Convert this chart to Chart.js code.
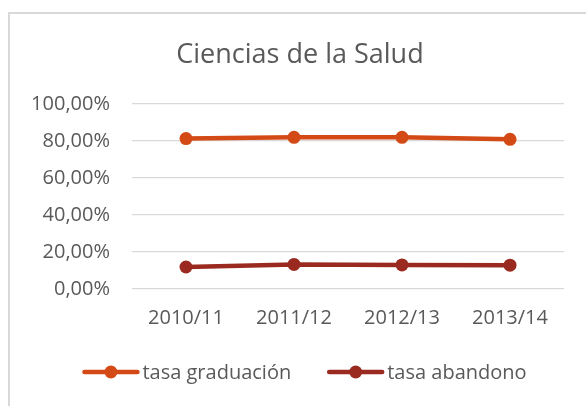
<!DOCTYPE html>
<html>
<head>
<meta charset="utf-8">
<script src="https://cdn.jsdelivr.net/npm/chart.js@4/dist/chart.umd.min.js"></script>
<style>
  html, body { margin: 0; padding: 0; background: #ffffff; overflow: hidden; }
  #wrap { position: relative; width: 586px; height: 406px; }
  #frame { position: absolute; left: 8px; top: 12px; width: 600px; height: 420px;
           border-left: 2px solid #d9d9d9; border-top: 2px solid #d9d9d9; box-sizing: border-box; }
  canvas { position: absolute; left: 0; top: 0; }
</style>
</head>
<body>
<div id="wrap">
  <div id="frame"></div>
  <canvas id="c" width="586" height="406"></canvas>
</div>
<script>
const categories = ['2010/11', '2011/12', '2012/13', '2013/14'];
const tasaGraduacion = [0.813, 0.820, 0.820, 0.809];
const tasaAbandono = [0.119, 0.133, 0.130, 0.129];
const seriesNames = ['tasa graduación', 'tasa abandono'];
const titleText = 'Ciencias de la Salud';

const ORANGE = '#D44A17';
const DARKRED = '#9A2A1F';
const TEXT = '#595959';
const FONT = "'Open Sans', sans-serif";

function fmtPct(v) {
  return (v * 100).toFixed(2).replace('.', ',') + '%';
}

const titleLegendPlugin = {
  id: 'titleLegend',
  afterDraw(chart) {
    const ctx = chart.ctx;
    ctx.save();
    // title
    ctx.fillStyle = TEXT;
    ctx.font = "27px " + FONT;
    ctx.textAlign = 'center';
    ctx.textBaseline = 'alphabetic';
    ctx.fillText(titleText, 300, 63);
    // legend
    ctx.font = "20px " + FONT;
    ctx.textAlign = 'left';
    const iconW = 57, gap = 3, itemGap = 36;
    const items = chart.data.datasets.map(ds => ({ text: ds.label, color: ds.borderColor,
      w: iconW + gap + ctx.measureText(ds.label).width }));
    const total = items.reduce((a, it) => a + it.w, 0) + itemGap * (items.length - 1);
    let x = 304.5 - total / 2;
    const cy = 372;
    items.forEach(it => {
      ctx.strokeStyle = it.color; ctx.lineWidth = 4.5; ctx.lineCap = 'round';
      ctx.beginPath(); ctx.moveTo(x + 2, cy); ctx.lineTo(x + iconW - 2, cy); ctx.stroke();
      ctx.fillStyle = it.color;
      ctx.beginPath(); ctx.arc(x + iconW / 2, cy, 6.5, 0, Math.PI * 2); ctx.fill();
      ctx.fillStyle = TEXT;
      ctx.fillText(it.text, x + iconW + gap, 379);
      x += it.w + itemGap;
    });
    ctx.restore();
  }
};

Chart.defaults.font.family = FONT;
Chart.defaults.color = TEXT;

new Chart(document.getElementById('c'), {
  type: 'line',
  data: {
    labels: categories,
    datasets: [
      { label: seriesNames[0], data: tasaGraduacion, borderColor: ORANGE, backgroundColor: ORANGE,
        borderWidth: 4.5, pointRadius: 6.5, pointBackgroundColor: ORANGE, pointBorderWidth: 0,
        pointStyle: 'circle', tension: 0, fill: false },
      { label: seriesNames[1], data: tasaAbandono, borderColor: DARKRED, backgroundColor: DARKRED,
        borderWidth: 4.5, pointRadius: 6.5, pointBackgroundColor: DARKRED, pointBorderWidth: 0,
        pointStyle: 'circle', tension: 0, fill: false }
    ]
  },
  plugins: [titleLegendPlugin],
  options: {
    responsive: false,
    animation: false,
    devicePixelRatio: 1,
    layout: { padding: { left: 0, right: 22, top: 104, bottom: 59 } },
    plugins: {
      title: { display: false },
      legend: { display: false },
      tooltip: { enabled: false }
    },
    scales: {
      x: {
        offset: true,
        grid: { display: false, drawTicks: false },
        border: { display: false },
        ticks: { font: { size: 20, family: FONT }, color: TEXT, padding: 17 }
      },
      y: {
        min: 0, max: 1,
        grid: { color: '#d9d9d9', lineWidth: 1.3, drawTicks: false },
        border: { display: false },
        afterFit: (s) => { s.width = 132; },
        ticks: { stepSize: 0.2, padding: 22, font: { size: 20, family: FONT }, color: TEXT,
                 callback: (v) => fmtPct(v) }
      }
    }
  }
});
</script>
</body>
</html>
